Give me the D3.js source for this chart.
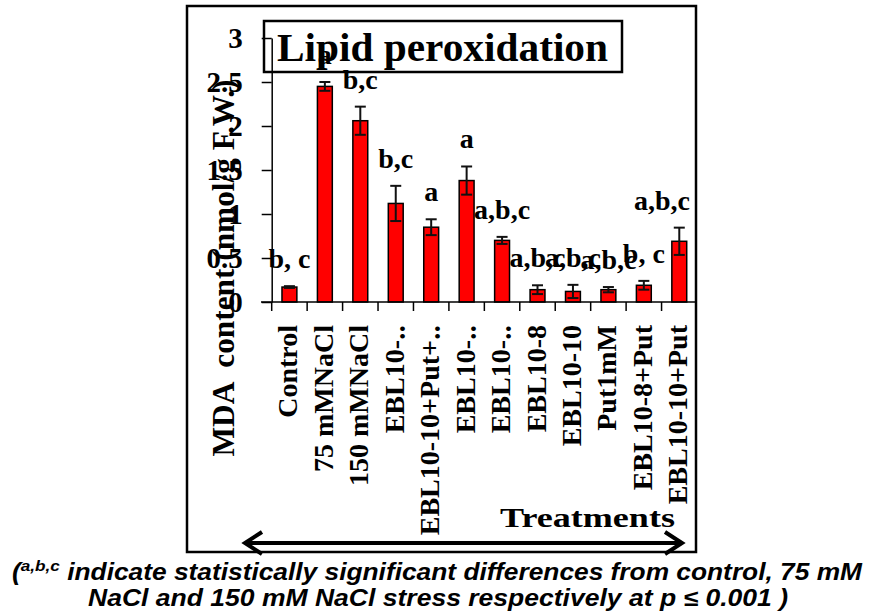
<!DOCTYPE html>
<html>
<head>
<meta charset="utf-8">
<script src="https://cdn.jsdelivr.net/npm/d3@7/dist/d3.min.js"></script>
<style>
  body { margin: 0; background: #fff; }
  svg { display: block; }
  .serif { font-family: "Liberation Serif", "Times New Roman", serif; font-weight: bold; }
</style>
</head>
<body>
<svg id="chart" width="878" height="615"></svg>
<script>
// treatments on the x axis
const treatments = [
  'Control', '75 mMNaCl', '150 mMNaCl', 'EBL10-\u2025', 'EBL10-10+Put+\u2025',
  'EBL10-\u2025', 'EBL10-\u2025', 'EBL10-8', 'EBL10-10', 'Put1mM',
  'EBL10-8+Put', 'EBL10-10+Put'
];
// MDA content (nmol/g F.W.)
const mdaMean = [0.17, 2.45, 2.06, 1.12, 0.85, 1.38, 0.70, 0.14, 0.12, 0.14, 0.19, 0.69];
const mdaErr = [0.01, 0.05, 0.16, 0.20, 0.09, 0.16, 0.04, 0.05, 0.075, 0.03, 0.05, 0.155];
// significance letters above the bars
const sigLetters = ['b, c', 'a', 'b,c', 'b,c', 'a', 'a', 'a,b,c', 'a,b,c', 'a,b,c', 'a,b,c', 'b, c', 'a,b,c'];
const yTicks = [0, 0.5, 1, 1.5, 2, 2.5, 3];

const svg = d3.select('#chart');

// outer frame
svg.append('rect')
  .attr('x', 187).attr('y', 6)
  .attr('width', 509).attr('height', 546)
  .attr('fill', '#fff')
  .attr('stroke', '#000')
  .attr('stroke-width', 2.5);

const xCat = d3.scaleBand()
  .domain(d3.range(treatments.length))
  .range([271.7, 697])
  .padding(0);

const y = d3.scaleLinear()
  .domain([0, 3])
  .range([302, 38]);

const barW = xCat.bandwidth() * 0.42;
const cx = i => xCat(i) + xCat.bandwidth() / 2;

// title box
svg.append('rect')
  .attr('x', 264).attr('y', 21)
  .attr('width', 358).attr('height', 51)
  .attr('fill', '#fff')
  .attr('stroke', '#000')
  .attr('stroke-width', 2.5);

svg.append('text')
  .attr('class', 'serif')
  .attr('x', 277).attr('y', 61)
  .attr('font-size', 40)
  .attr('textLength', 331)
  .attr('lengthAdjust', 'spacingAndGlyphs')
  .text('Lipid peroxidation');

// bars
svg.append('g')
  .selectAll('rect')
  .data(mdaMean)
  .enter()
  .append('rect')
  .attr('x', (d, i) => cx(i) - barW / 2)
  .attr('y', d => y(d))
  .attr('width', barW)
  .attr('height', d => y(0) - y(d))
  .attr('fill', '#ff0000')
  .attr('stroke', '#000')
  .attr('stroke-width', 1.5);

// error bars
const errG = svg.append('g')
  .attr('stroke', '#111')
  .attr('stroke-width', 2);

mdaMean.forEach((m, i) => {
  const hi = y(m + mdaErr[i]);
  const lo = y(m - mdaErr[i]);
  errG.append('line')
    .attr('x1', cx(i)).attr('x2', cx(i))
    .attr('y1', hi).attr('y2', lo);
  [hi, lo].forEach((yy) => {
    errG.append('line')
      .attr('x1', cx(i) - 5.5).attr('x2', cx(i) + 5.5)
      .attr('y1', yy).attr('y2', yy);
  });
});

// y axis
const yAxis = svg.append('g')
  .attr('transform', 'translate(271.7,0)')
  .call(d3.axisLeft(y)
    .tickValues(yTicks)
    .tickSize(10)
    .tickSizeOuter(0)
    .tickPadding(19)
    .tickFormat(d => `${d}`));
yAxis.select('.domain').attr('stroke-width', 1.5);
yAxis.selectAll('.tick line').attr('stroke-width', 1.5);
yAxis.selectAll('.tick text')
  .attr('class', 'serif')
  .attr('font-size', 29)
  .attr('fill', '#000');

// x axis line and boundary ticks
const xAxis = svg.append('g').attr('stroke', '#000').attr('stroke-width', 1.5);
xAxis.append('line')
  .attr('x1', 261).attr('x2', 697)
  .attr('y1', y(0)).attr('y2', y(0));
d3.range(treatments.length).forEach((i) => {
  xAxis.append('line')
    .attr('x1', xCat(i)).attr('x2', xCat(i))
    .attr('y1', y(0)).attr('y2', y(0) + 9);
});

// category labels (rotated)
svg.append('g')
  .selectAll('text')
  .data(treatments)
  .enter()
  .append('text')
  .attr('class', 'serif')
  .attr('font-size', 28)
  .attr('text-anchor', 'end')
  .attr('transform', (d, i) => `translate(${cx(i) + 8},325) rotate(-90)`)
  .text(d => d);

// y axis title
svg.append('text')
  .attr('class', 'serif')
  .attr('font-size', 32)
  .attr('text-anchor', 'middle')
  .attr('textLength', 377)
  .attr('lengthAdjust', 'spacingAndGlyphs')
  .style('white-space', 'pre')
  .attr('transform', 'translate(234,268) rotate(-90)')
  .text('MDA  content (nmol/g F.W.)');

// significance letters
const sig = svg.append('g')
  .selectAll('text')
  .data(sigLetters)
  .enter()
  .append('text')
  .attr('class', 'serif')
  .attr('font-size', 28)
  .attr('text-anchor', 'middle')
  .attr('x', (d, i) => cx(i))
  .attr('y', (d, i) => y(mdaMean[i] + mdaErr[i]) - 18)
  .text(d => d);

// keep the last label inside the frame
sig.each(function () {
  const w = this.getComputedTextLength();
  const x0 = +this.getAttribute('x');
  if (x0 + w / 2 > 690) this.setAttribute('x', 690 - w / 2);
});

// x axis title
svg.append('text')
  .attr('class', 'serif')
  .attr('x', 500).attr('y', 527)
  .attr('font-size', 28)
  .attr('textLength', 175)
  .attr('lengthAdjust', 'spacingAndGlyphs')
  .text('Treatments');

// double headed arrow
const arrow = svg.append('g')
  .attr('stroke', '#000')
  .attr('fill', 'none')
  .attr('stroke-width', 4);
arrow.append('line')
  .attr('x1', 246).attr('x2', 681)
  .attr('y1', 543).attr('y2', 543);
arrow.append('polyline').attr('points', '262,532 245,543 262,554');
arrow.append('polyline').attr('points', '665,532 682,543 665,554');

// footnote
const note1 = svg.append('text')
  .attr('x', 437).attr('y', 580)
  .attr('text-anchor', 'middle')
  .attr('font-family', '"Liberation Sans", Arial, sans-serif')
  .attr('font-weight', 'bold')
  .attr('font-style', 'italic')
  .attr('font-size', 23)
  .attr('textLength', 850)
  .attr('lengthAdjust', 'spacingAndGlyphs');
note1.append('tspan').text('(');
note1.append('tspan').attr('font-size', 15).attr('dy', -9).text('a,b,c');
note1.append('tspan').attr('dy', 9).text(' indicate statistically significant differences from control, 75 mM');

svg.append('text')
  .attr('x', 438).attr('y', 606)
  .attr('text-anchor', 'middle')
  .attr('font-family', '"Liberation Sans", Arial, sans-serif')
  .attr('font-weight', 'bold')
  .attr('font-style', 'italic')
  .attr('font-size', 23)
  .attr('textLength', 700)
  .attr('lengthAdjust', 'spacingAndGlyphs')
  .text('NaCl and 150 mM NaCl stress respectively at p \u2264 0.001 )');
</script>
</body>
</html>
